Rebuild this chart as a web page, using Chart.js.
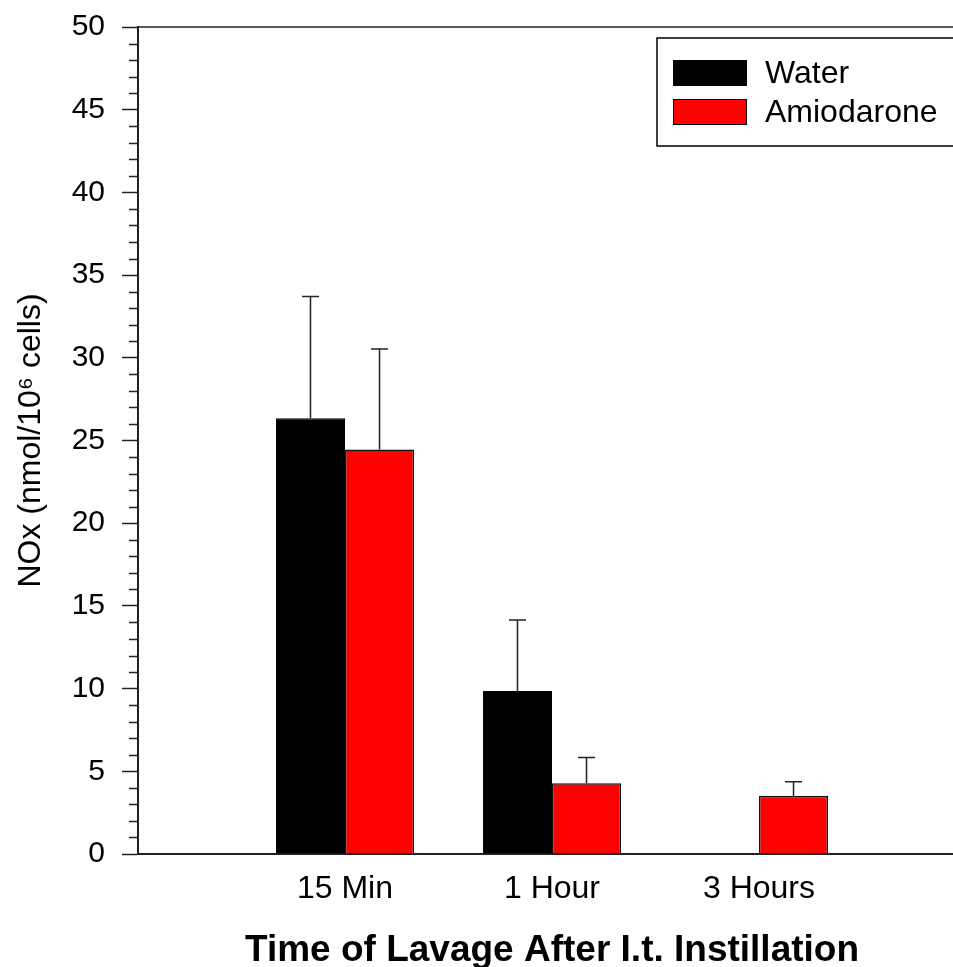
<!DOCTYPE html>
<html>
<head>
<meta charset="utf-8">
<script src="https://cdn.jsdelivr.net/npm/chart.js@4/dist/chart.umd.min.js"></script>
<style>
  html, body { margin: 0; padding: 0; background: #fff; overflow: hidden; }
  #wrap { width: 953px; height: 967px; overflow: hidden; }
</style>
</head>
<body>
<div id="wrap"><canvas id="chart" width="982" height="967"></canvas></div>
<script>
// categories (empty slots either side keep the spacing of the original axis)
const categories = ['15 Min', '1 Hour', '3 Hours'];
const waterValues = [26.35, 9.85, null];
const waterErrors = [7.35, 4.3, null];
const amioValues = [24.45, 4.27, 3.52];
const amioErrors = [6.08, 1.57, 0.85];
const yTicks = [0, 5, 10, 15, 20, 25, 30, 35, 40, 45, 50];

const pad = (arr) => [null, ...arr, null];
const FONT = 'Liberation Sans, Arial, sans-serif';
const AXIS = '#222';

// error bars (upper only) on top of each bar
const errorBars = {
    id: 'errorBars',
    afterDatasetsDraw(chart) {
        const ctx = chart.ctx;
        const y = chart.scales.y;
        chart.data.datasets.forEach((ds, di) => {
            const meta = chart.getDatasetMeta(di);
            meta.data.forEach((bar, i) => {
                const v = ds.data[i], e = ds.errors[i];
                if (v == null || e == null) return;
                const top = y.getPixelForValue(v + e);
                ctx.save();
                ctx.strokeStyle = AXIS;
                ctx.lineWidth = 1.5;
                ctx.beginPath();
                ctx.moveTo(bar.x, bar.y);
                ctx.lineTo(bar.x, top);
                ctx.moveTo(bar.x - 8.5, top);
                ctx.lineTo(bar.x + 8.5, top);
                ctx.stroke();
                ctx.restore();
            });
        });
    }
};

// minor ticks, top frame line and boxed legend
const decorations = {
    id: 'decorations',
    afterDraw(chart) {
        const ctx = chart.ctx;
        const y = chart.scales.y;
        const area = chart.chartArea;
        ctx.save();
        ctx.strokeStyle = AXIS;
        ctx.lineWidth = 1.5;
        ctx.beginPath();
        for (let v = 0; v <= 50; v++) {
            if (v % 5 === 0) continue;
            const py = Math.round(y.getPixelForValue(v)) + 0.5;
            ctx.moveTo(area.left - 9, py);
            ctx.lineTo(area.left, py);
        }
        // top frame
        ctx.moveTo(area.left, area.top);
        ctx.lineTo(area.right, area.top);
        ctx.stroke();

        // legend box
        const bx = 657, by = 38, bw = 330, bh = 108;
        ctx.lineWidth = 1.5;
        ctx.strokeStyle = '#000';
        ctx.strokeRect(bx, by, bw, bh);
        ctx.font = '32px ' + FONT;
        ctx.textBaseline = 'middle';
        ctx.textAlign = 'left';
        chart.data.datasets.forEach((ds, i) => {
            const cy = 73 + i * 39;
            ctx.fillStyle = ds.backgroundColor;
            ctx.fillRect(673, cy - 13, 74, 26);
            ctx.lineWidth = 1;
            ctx.strokeStyle = '#000';
            ctx.strokeRect(673.5, cy - 12.5, 73, 25);
            ctx.fillStyle = '#000';
            ctx.fillText(ds.label, 765, cy + 1);
        });
        ctx.restore();
    }
};

new Chart(document.getElementById('chart'), {
    type: 'bar',
    data: {
        labels: ['', ...categories, ''],
        datasets: [
            {
                label: 'Water',
                data: pad(waterValues),
                errors: pad(waterErrors),
                backgroundColor: '#000000',
                borderColor: '#000000',
                borderWidth: 1
            },
            {
                label: 'Amiodarone',
                data: pad(amioValues),
                errors: pad(amioErrors),
                backgroundColor: '#ff0000',
                borderColor: '#111111',
                borderWidth: 1.5
            }
        ]
    },
    options: {
        responsive: false,
        animation: false,
        layout: { padding: { top: 27, right: 0, left: 0, bottom: 0 } },
        datasets: { bar: { categoryPercentage: 0.667, barPercentage: 1 } },
        plugins: {
            legend: { display: false },
            tooltip: { enabled: false }
        },
        scales: {
            x: {
                offset: false,
                grid: { display: true, drawOnChartArea: false, drawTicks: false, offset: false },
                border: { display: true, color: AXIS, width: 2 },
                ticks: {
                    color: '#000',
                    padding: 16,
                    maxRotation: 0,
                    autoSkip: false,
                    font: { family: FONT, size: 32 }
                },
                title: {
                    display: true,
                    text: 'Time of Lavage After I.t. Instillation',
                    color: '#000',
                    font: { family: FONT, size: 37, weight: 'bold', lineHeight: 0.9 },
                    padding: { top: 0, bottom: 0 }
                },
                afterFit(scale) { scale.height = 113; }
            },
            y: {
                min: 0,
                max: 50,
                afterBuildTicks(scale) { scale.ticks = yTicks.map(v => ({ value: v })); },
                grid: {
                    drawOnChartArea: false,
                    tickLength: 16,
                    tickColor: AXIS,
                    tickWidth: 1.5
                },
                border: { display: true, color: AXIS, width: 2 },
                ticks: {
                    color: '#000',
                    padding: 17,
                    font: { family: FONT, size: 30 }
                },
                title: {
                    display: true,
                    text: 'NOx (nmol/10\u2076 cells)',
                    color: '#000',
                    font: { family: FONT, size: 32 },
                    padding: { top: 12, bottom: 0 }
                },
                afterFit(scale) {
                    scale.width = 138;
                    scale.paddingTop = 0;
                    scale.paddingBottom = 0;
                }
            }
        }
    },
    plugins: [errorBars, decorations]
});
</script>
</body>
</html>
